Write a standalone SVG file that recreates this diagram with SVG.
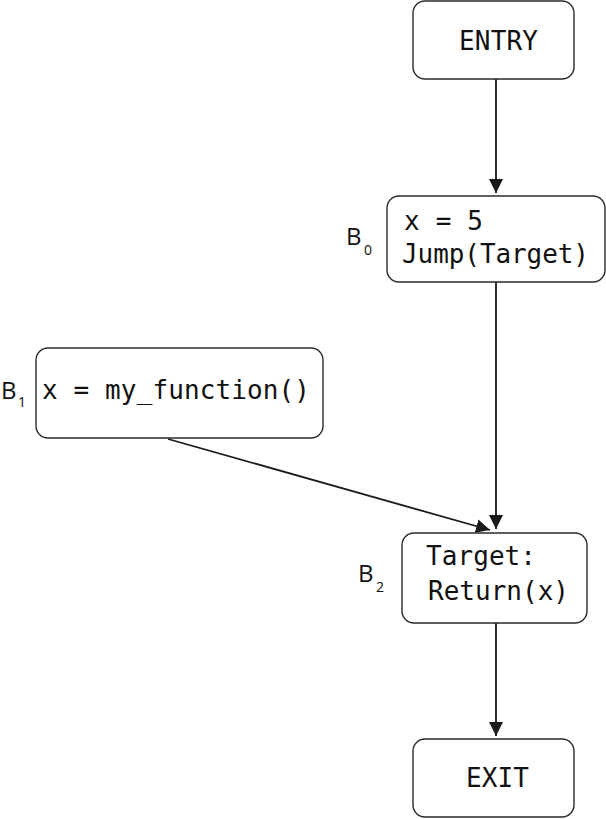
<svg xmlns="http://www.w3.org/2000/svg" width="606" height="819" viewBox="0 0 606 819">
<style>
.box{fill:#fff;stroke:#2a2a2a;stroke-width:1.4}
.code{font-family:"DejaVu Sans Mono","Liberation Mono",monospace;font-size:26px;fill:#111}
.lbl{font-family:"Open Sans","Liberation Sans",sans-serif;font-size:24px;fill:#111}
.sub{font-family:"Open Sans","Liberation Sans",sans-serif;font-size:14px;fill:#111}
.edge{stroke:#1a1a1a;stroke-width:1.8;fill:none;marker-end:url(#arr)}
</style>
<defs>
<marker id="arr" markerWidth="14" markerHeight="14" refX="14" refY="7" orient="auto" markerUnits="userSpaceOnUse" viewBox="0 0 14 14">
<path d="M0,0 L14,7 L0,14 Z" fill="#1a1a1a"/>
</marker>
</defs>
<rect width="606" height="819" fill="#fff"/>
<g id="connectors">
<line class="edge" x1="496" y1="79" x2="496" y2="193"/>
<line class="edge" x1="496" y1="282" x2="496" y2="529"/>
<line class="edge" x1="168" y1="439" x2="490" y2="530"/>
<line class="edge" x1="496" y1="623" x2="496" y2="736"/>
</g>
<g id="entry">
<rect class="box" x="413" y="1" width="161" height="78" rx="12"/>
<text class="code" x="459" y="50" textLength="79">ENTRY</text>
</g>
<g id="b0">
<rect class="box" x="387" y="196" width="218" height="86" rx="12"/>
<text class="code" x="404" y="230" textLength="79">x = 5</text>
<text class="code" x="402" y="263" textLength="187">Jump(Target)</text>
<text class="lbl" x="346" y="245">B</text>
<text class="sub" x="364" y="255">0</text>
</g>
<g id="b1">
<rect class="box" x="36" y="348" width="287" height="90" rx="12"/>
<text class="code" x="42" y="399" textLength="268">x = my_function()</text>
<text class="lbl" x="1" y="399">B</text>
<text class="sub" x="18" y="407">1</text>
</g>
<g id="b2">
<rect class="box" x="402" y="533" width="185" height="90" rx="12"/>
<text class="code" x="426" y="565" textLength="110">Target:</text>
<text class="code" x="428" y="600" textLength="141">Return(x)</text>
<text class="lbl" x="358" y="582">B</text>
<text class="sub" x="376" y="592">2</text>
</g>
<g id="exit">
<rect class="box" x="413" y="739" width="161" height="78" rx="12"/>
<text class="code" x="466" y="787" textLength="63">EXIT</text>
</g>
</svg>
